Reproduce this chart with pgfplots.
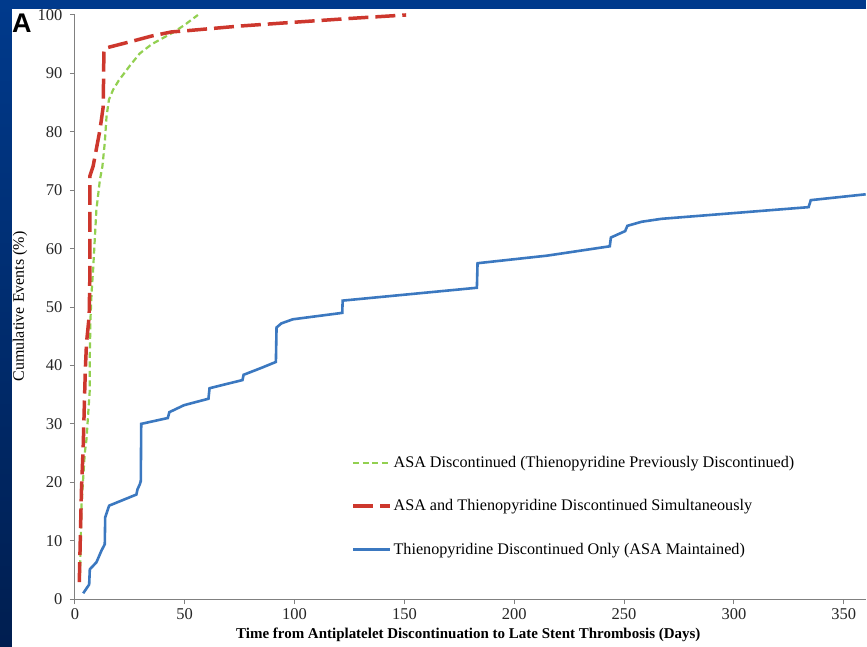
\documentclass[border=0pt]{standalone}
\usepackage{fontspec}
\setmainfont{Liberation Serif}
\newfontfamily\sansfont{Liberation Sans}
\usepackage{pgfplots}
\pgfplotsset{compat=1.18}
\definecolor{bgblue}{RGB}{0,58,140}
\definecolor{bgdark}{RGB}{0,30,80}
\definecolor{cgreen}{RGB}{146,208,80}
\definecolor{cred}{RGB}{205,55,45}
\definecolor{cblue}{RGB}{59,120,192}
\definecolor{axgray}{RGB}{128,128,128}
\begin{document}
\begin{tikzpicture}[x=1pt,y=1pt]
\fill[white] (0,0) rectangle (867,647);
\shade[top color=bgblue, bottom color=bgdark] (0,0) rectangle (12,647);
\begin{axis}[
  at={(75pt,47pt)}, anchor=south west,
  scale only axis, width=792pt, height=585pt,
  xmin=0, xmax=360, ymin=0, ymax=100,
  axis x line=bottom, axis y line=left,
  axis line style={-, axgray, line width=1.2pt},
  tick style={axgray, line width=1pt},
  major tick length=5pt, tick align=outside,
  xtick={0,50,...,350}, ytick={0,10,...,100},
  ticklabel style={font=\fontsize{16.5}{19}\selectfont, text=black!85},
  yticklabel style={xshift=-4pt},
  xticklabel style={yshift=-1pt},
  /pgf/number format/assume math mode=true,
  clip=false,
  legend image code/.code={\draw[#1] (0pt,0pt) -- (37pt,0pt);},
  legend cell align=left,
  legend style={draw=none, fill=none, at={(0.3497,0.247)}, anchor=north west,
    inner sep=0pt, row sep=27.5pt, font=\fontsize{16.2}{19}\selectfont,
    nodes={inner sep=1.5pt}},
]
\addplot[cgreen, line width=2.2pt, dash pattern=on 6pt off 3.5pt] coordinates {
(2.3,4.0)(3.0,16)(4.5,25)(5.3,27.4)(5.8,30.3)(6.8,35.9)(6.8,41.8)(7.1,48)(7.6,52.5)
(8.3,56.4)(9.8,66.7)(11.4,71.8)(12.5,74)(13.6,78.1)(14.4,82.6)(15.5,85.5)(17.4,87.2)
(20,88.8)(25,91.3)(29.5,93.4)(35,95)(44.7,97)(50,98.3)(56,100)};
\addlegendentry{ASA Discontinued (Thienopyridine Previously Discontinued)}
\addplot[cred, line width=3.5pt, dash pattern=on 20pt off 7pt] coordinates {
(2.0,2.9)(3.0,18.8)(3.8,26.3)(4.5,35.9)(4.8,39.7)(5.3,43.9)(6.5,48.4)(6.8,55)(6.8,72.4)
(8.3,74.1)(11.4,80.3)(12.9,84.3)(13.2,93.6)(13.6,94.3)(25,95.4)(35,96.4)(44,97.1)
(50.8,97.3)(75,98.1)(97.7,98.7)(125,99.4)(150.8,100)};
\addlegendentry{ASA and Thienopyridine Discontinued Simultaneously}
\addplot[cblue, line width=2.6pt] coordinates {
(3.8,1)(6.5,2.5)(6.8,5.1)(9.8,6.3)(12.1,8.3)(13.6,9.4)(13.8,14)(15.6,16)(28,17.9)
(28.5,18.8)(29.5,19.6)(30,20.2)(30.2,30)(42.3,31)(43,32)(49.7,33.2)(60.8,34.3)
(61.3,36.1)(76.3,37.5)(76.8,38.4)(85,39.6)(91.5,40.6)(91.8,46.5)(94,47.2)(99.2,47.9)
(121.7,49)(121.9,51.1)(183,53.3)(183.3,57.5)(215,58.8)(243.5,60.4)(244,61.9)
(250.5,63)(251.5,63.9)(258,64.6)(267,65.1)(334,67.1)(335,68.3)(360,69.3)};
\addlegendentry{Thienopyridine Discontinued Only (ASA Maintained)}
\end{axis}
\fill[bgblue] (0,638) rectangle (867,647);
\node[font=\sansfont\bfseries\fontsize{27}{27}\selectfont] at (22,624) {A};
\node[rotate=90, font=\fontsize{16}{18}\selectfont] at (20,340) {Cumulative Events (\%)};
\node[font=\bfseries\fontsize{15}{17}\selectfont] at (469,11) {Time from Antiplatelet Discontinuation to Late Stent Thrombosis (Days)};
\end{tikzpicture}
\end{document}
